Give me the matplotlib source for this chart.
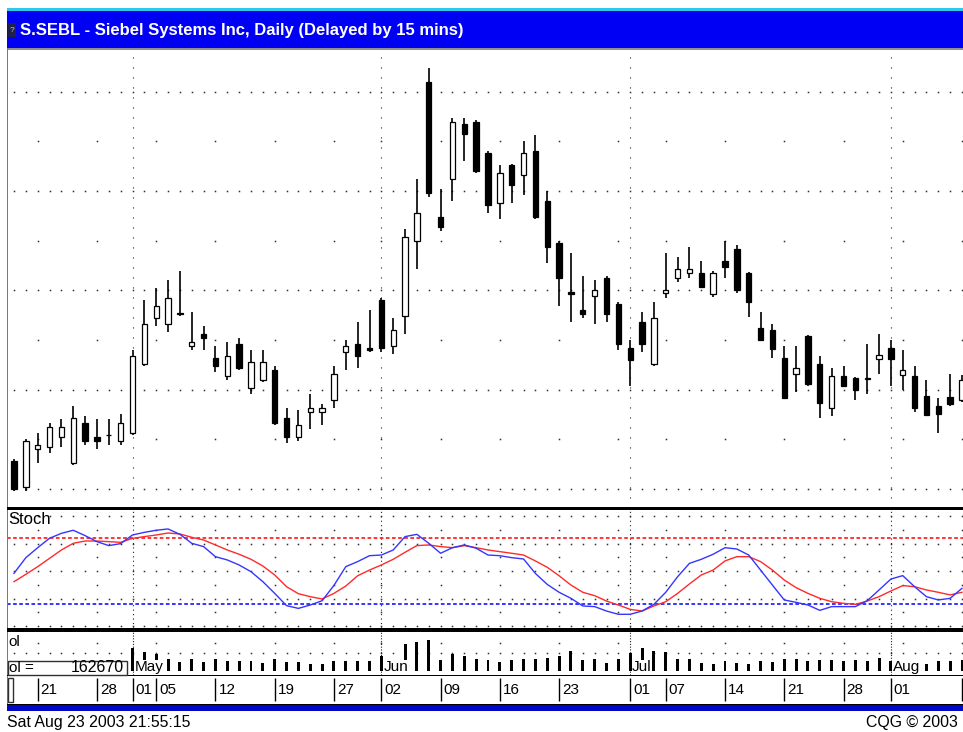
import numpy as np
import pandas as pd
import matplotlib
matplotlib.use("Agg")
import matplotlib.pyplot as plt
from matplotlib.patches import Rectangle

# trading days on screen (Good Friday, Memorial Day and July 4th closed)
days = pd.bdate_range("2003-04-16", "2003-08-11")
days = days.drop(pd.to_datetime(["2003-04-18", "2003-05-26", "2003-07-04"]))

opens = [8.14, 8.01, 8.20, 8.21, 8.26, 8.13, 8.33, 8.26, 8.27, 8.24,
         8.28, 8.63, 8.86, 8.83, 8.885, 8.72, 8.78, 8.66, 8.57, 8.73,
         8.51, 8.55, 8.60, 8.36, 8.26, 8.39, 8.39, 8.45, 8.69, 8.73,
         8.71, 8.95, 8.72, 8.87, 9.25, 10.05, 9.37, 9.56, 9.84, 9.85,
         9.69, 9.44, 9.63, 9.58, 9.70, 9.45, 9.24, 8.99, 8.90, 8.97,
         9.06, 8.93, 8.71, 8.84, 8.63, 8.985, 9.06, 9.09, 9.09, 8.98,
         9.15, 9.21, 9.09, 8.81, 8.80, 8.66, 8.58, 8.77, 8.63, 8.41,
         8.57, 8.56, 8.555, 8.655, 8.71, 8.575, 8.57, 8.47, 8.42, 8.465,
         8.45]
highs = [8.15, 8.25, 8.28, 8.33, 8.35, 8.42, 8.37, 8.35, 8.35, 8.38,
         8.70, 8.95, 9.01, 9.05, 9.10, 8.89, 8.82, 8.72, 8.74, 8.76,
         8.70, 8.70, 8.62, 8.41, 8.40, 8.48, 8.43, 8.62, 8.75, 8.84,
         8.90, 8.96, 8.86, 9.31, 9.56, 10.12, 9.51, 9.87, 9.87, 9.86,
         9.70, 9.63, 9.635, 9.75, 9.78, 9.50, 9.25, 9.19, 9.07, 9.05,
         9.07, 8.94, 8.75, 8.89, 8.94, 9.19, 9.17, 9.22, 9.15, 9.10,
         9.25, 9.23, 9.095, 8.89, 8.83, 8.72, 8.72, 8.775, 8.67, 8.61,
         8.62, 8.565, 8.73, 8.78, 8.75, 8.70, 8.62, 8.55, 8.46, 8.58,
         8.575]
lows = [7.99, 7.99, 8.13, 8.18, 8.21, 8.12, 8.22, 8.20, 8.22, 8.22,
        8.27, 8.62, 8.82, 8.79, 8.87, 8.70, 8.70, 8.59, 8.55, 8.60,
        8.48, 8.54, 8.32, 8.23, 8.24, 8.30, 8.32, 8.41, 8.60, 8.61,
        8.69, 8.69, 8.68, 8.78, 9.11, 9.47, 9.30, 9.45, 9.65, 9.59,
        9.39, 9.36, 9.44, 9.48, 9.36, 9.14, 8.92, 8.84, 8.86, 8.83,
        8.84, 8.70, 8.52, 8.69, 8.62, 8.96, 9.04, 9.06, 9.01, 8.965,
        9.06, 8.985, 8.865, 8.745, 8.66, 8.455, 8.49, 8.52, 8.36, 8.37,
        8.515, 8.45, 8.48, 8.58, 8.52, 8.50, 8.39, 8.37, 8.28, 8.42,
        8.44]
closes = [8.00, 8.24, 8.22, 8.31, 8.31, 8.36, 8.24, 8.24, 8.27, 8.33,
          8.67, 8.83, 8.92, 8.96, 8.88, 8.74, 8.76, 8.62, 8.67, 8.61,
          8.64, 8.64, 8.33, 8.26, 8.32, 8.41, 8.41, 8.58, 8.72, 8.67,
          8.70, 8.71, 8.80, 9.27, 9.39, 9.49, 9.32, 9.85, 9.79, 9.60,
          9.43, 9.59, 9.53, 9.69, 9.37, 9.22, 9.06, 8.98, 8.88, 9.00,
          8.88, 8.73, 8.65, 8.73, 8.86, 9.00, 9.11, 9.11, 9.015, 9.09,
          9.12, 9.00, 8.94, 8.75, 8.705, 8.46, 8.61, 8.53, 8.435, 8.57,
          8.52, 8.50, 8.56, 8.675, 8.655, 8.60, 8.41, 8.375, 8.38, 8.43,
          8.55]
# volume in thousands of shares; the first bars sit behind the "ol =" box
volume = [np.nan] * 10 + [
    368, 304, 272, 192, 144, 192, 144, 192, 160, 160,
    160, 128, 192, 144, 144, 112, 112, 160, 160, 160,
    160, 240, 128, 432, 464, 496, 176, 272, 240, 192,
    176, 144, 176, 192, 192, 208, 240, 320, 176, 192,
    128, 192, 288, 368, 320, 304, 192, 192, 128, 112,
    160, 128, 112, 160, 144, 192, 192, 160, 176, 176,
    160, 176, 160, 208, 160, 112, 112, 112, 160, 160,
    176]
last_volume = "162670"
pct_k = [48, 62.3, 71.4, 80, 84.5, 87.3, 82.4, 76.9, 73.3, 75.1,
         83, 85.4, 87.3, 88.5, 83.6, 75.4, 72.4, 63.2, 60.2, 55.6,
         49.5, 40.4, 29.7, 18.5, 16, 19.1, 23, 37, 54.1, 58.7,
         64.1, 64.7, 69.3, 81.5, 83.6, 75.4, 66.3, 71.4, 73.9, 70.9,
         64.7, 64.1, 62.3, 61.1, 47.9, 37.9, 30.7, 25.2, 18.2, 17.6,
         13.6, 10.6, 10.6, 13.6, 19.7, 30.7, 44.9, 57.1, 60.8, 65.4,
         71.4, 70.2, 64.7, 51, 37.3, 23.7, 21.5, 19.1, 14.2, 17.6,
         17.6, 17.6, 23, 32.8, 42.8, 45.9, 35.8, 26.7, 23.7, 25.2,
         34.3]
pct_d = [40.4, 47.1, 54.1, 61.7, 69.3, 75.4, 77.5, 77.5, 76.9, 76.3,
         79.9, 81.5, 83, 84.8, 83.9, 80.9, 78.4, 73.9, 69.3, 65.4,
         60.8, 54.7, 46.5, 35.8, 29.4, 26.7, 24.6, 29.7, 36.4, 45.8,
         51, 55.6, 60.8, 67.2, 73.3, 73.9, 72.4, 71.4, 73.3, 71.4,
         69.3, 67.8, 66.3, 64.7, 59.3, 53.5, 45.8, 37.3, 30.7, 27.6,
         22.7, 19.1, 15.1, 13.6, 18.2, 22.1, 29.7, 38.3, 46.5, 51,
         59.3, 63.2, 63.2, 58.7, 51, 41.9, 34.9, 29.7, 25.2, 22.1,
         20.6, 19.7, 22.7, 26.7, 31.9, 36.8, 35.8, 32.8, 30.7, 28.3,
         30.7]
tick_days = ["2003-04-21", "2003-04-28", "2003-05-01", "2003-05-05", "2003-05-12",
             "2003-05-19", "2003-05-27", "2003-06-02", "2003-06-09", "2003-06-16",
             "2003-06-23", "2003-07-01", "2003-07-07", "2003-07-14", "2003-07-21",
             "2003-07-28", "2003-08-01", "2003-08-11"]
title = "S.SEBL - Siebel Systems Inc, Daily (Delayed by 15 mins)"
stamp = "Sat Aug 23 2003 21:55:15"

opens, highs, lows, closes = map(np.array, (opens, highs, lows, closes))
volume = np.array(volume, dtype=float)
x = np.arange(len(days))
month_start = x[1:][days.month[1:] != days.month[:-1]]
wk = days.isocalendar().week.values
week_start = x[1:][wk[1:] != wk[:-1]]
tick_pos = [days.get_loc(pd.Timestamp(d)) for d in tick_days]

W, H = 963, 732
fig = plt.figure(figsize=(W / 100, H / 100), dpi=100)
plt.rcParams["font.family"] = ["Liberation Sans", "DejaVu Sans"]


def frac(x0, y0, x1, y1):
    return [x0 / W, 1 - y1 / H, (x1 - x0) / W, (y1 - y0) / H]


def block(x0, y0, x1, y1, color, edge="none", lw=0):
    fig.add_artist(Rectangle((x0 / W, 1 - y1 / H), (x1 - x0) / W, (y1 - y0) / H,
                             transform=fig.transFigure, facecolor=color,
                             edgecolor=edge, linewidth=lw))


def dots(ax, xs, ys):
    gx, gy = np.meshgrid(xs, ys)
    ax.plot(gx.ravel(), gy.ravel(), ls="none", marker="s", ms=1.1, mew=0,
            color="#303030", zorder=1)


# bar i sits at pixel 14 + 11.85 i
xlim = ((7 - 14) / 11.85, (963 - 14) / 11.85)
ax_p = fig.add_axes(frac(7, 50, 963, 508))
ax_s = fig.add_axes(frac(7, 510, 963, 628))
ax_v = fig.add_axes(frac(7, 631, 963, 675))
ax_d = fig.add_axes(frac(7, 675, 963, 704))
for ax in (ax_p, ax_s, ax_v, ax_d):
    ax.set_xlim(*xlim)
    ax.axis("off")

# price panel
ax_p.set_ylim(7.9043, 10.2105)
dots(ax_p, x, [8.0, 8.5, 9.0, 9.5, 10.0])
dots(ax_p, week_start, [8.25, 8.75, 9.25, 9.75])
for m in month_start:
    ax_p.axvline(m, color="#202020", lw=0.8, ls=(0, (1, 8)), zorder=1)
up = closes >= opens
ax_p.vlines(x, lows, highs, color="black", lw=1.2, zorder=2)
ax_p.bar(x, np.abs(closes - opens), bottom=np.minimum(opens, closes), width=0.45,
         color=np.where(up, "white", "black"), edgecolor="black", linewidth=0.9,
         zorder=3)

# stochastics
ax_s.set_ylim(-1.9, 105.8)
dots(ax_s, x, [0, 25, 50, 75, 100])
dots(ax_s, week_start, [12.5, 37.5, 62.5, 87.5])
for m in month_start:
    ax_s.axvline(m, color="#202020", lw=0.8, ls=(0, (1, 3)), zorder=1)
ax_s.axhline(80, color="#ff0000", lw=1.1, ls=(0, (2.4, 1.6)), zorder=2)
ax_s.axhline(20, color="#0000ff", lw=1.1, ls=(0, (2.4, 1.6)), zorder=2)
ax_s.plot(x, pct_d, color="#ff2a2a", lw=1.0, zorder=3)
ax_s.plot(x, pct_k, color="#3535ff", lw=1.0, zorder=4)

# volume
ax_v.set_ylim(-64, 640)
dots(ax_v, x, [288])
dots(ax_v, week_start, [448])
for m in month_start:
    ax_v.axvline(m, color="#202020", lw=0.8, ls=(0, (1, 1.5)), zorder=1)
ax_v.bar(x, volume, width=0.25, color="black", zorder=3)
for m in month_start:
    ax_v.text(m + 0.17, 60, days[m].strftime("%b"), fontsize=11, va="center",
              ha="left", zorder=5,
              bbox=dict(facecolor="white", edgecolor="none", pad=0.3))

# date axis: the last tick's label falls past the window edge
ax_d.set_ylim(0, 1)
ax_d.vlines(tick_pos, 0.1, 0.9, color="black", lw=1.0)
for p in tick_pos:
    if p + 1.8 < xlim[1]:
        ax_d.text(p + 0.25, 0.48, days[p].strftime("%d"), fontsize=11,
                  va="center", ha="left")

# window frame
block(7, 8.5, 963, 10.5, "#30c8e8")
block(7, 10.5, 963, 47.5, "#0000f4")
block(8, 23, 16, 37, "#202048")
fig.text(12 / W, 1 - 30 / H, "?", color="#c0c0ff", fontsize=6, ha="center",
         va="center")
fig.text(20 / W, 1 - 30 / H, title, color="white", fontsize=12,
         fontweight="bold", ha="left", va="center")
block(7, 47.5, 963, 49.5, "#909090")
block(6.5, 48, 8, 705, "#7a7a7a")
block(7, 507, 963, 510, "black")
block(7, 628, 963, 631.5, "black")
block(7, 674.5, 963, 675.5, "black")
block(7, 703.5, 963, 704.5, "black")
block(7, 705, 963, 711, "#0008c8")
block(8, 678, 12.5, 702, "white", edge="#303030", lw=1)
block(7.5, 660.5, 127, 675, "white", edge="#303030", lw=1)

fig.text(8 / W, 1 - 519 / H, "Stoch", fontsize=12, ha="left", va="center")
fig.text(8 / W, 1 - 642 / H, "ol", fontsize=11, ha="left", va="center")
fig.text(9 / W, 1 - 668 / H, "ol =", fontsize=11, ha="left", va="center")
fig.text(124 / W, 1 - 668 / H, last_volume, fontsize=11.5, ha="right",
         va="center")
fig.text(7 / W, 1 - 722 / H, stamp, fontsize=11.4, ha="left", va="center")
fig.text(958 / W, 1 - 722 / H, "CQG © 2003", fontsize=11.4, ha="right",
         va="center")

fig.savefig("out.png", dpi=100, facecolor="white")
